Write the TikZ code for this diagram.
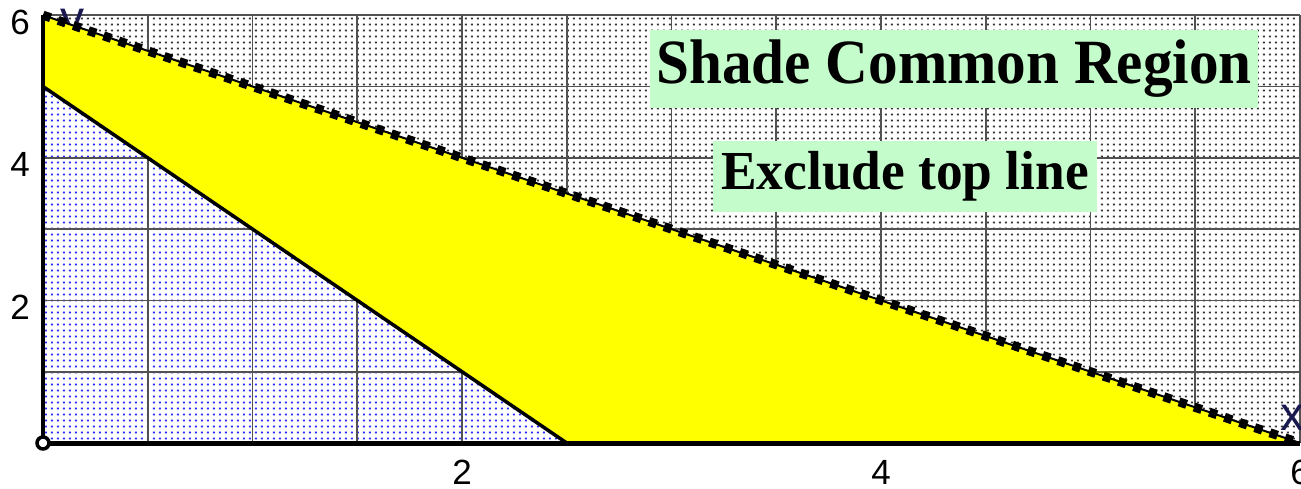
\documentclass[tikz,border=0pt]{standalone}
\usepackage{fontspec}
\usepackage{graphicx}
\setmainfont{Liberation Serif}
\newfontfamily\arsans{Liberation Sans}
\usetikzlibrary{patterns}
\definecolor{boxgreen}{RGB}{196,252,204}
\definecolor{axnavy}{RGB}{25,25,80}
\definecolor{ylw}{RGB}{255,255,0}
\definecolor{dotblue}{RGB}{40,40,255}
\pgfdeclarepatternformonly{gdots}{\pgfqpoint{0pt}{0pt}}{\pgfqpoint{6.3pt}{6pt}}{\pgfqpoint{6.3pt}{6pt}}{\pgfpathrectangle{\pgfqpoint{2.2pt}{2.0pt}}{\pgfqpoint{2pt}{2pt}}\pgfusepath{fill}}
\begin{document}
\begin{tikzpicture}[x=209.5pt,y=71.3pt,
  gridln/.style={draw=black!68, line width=1.8pt},
  ticklab/.style={font=\arsans\fontsize{35}{35}\selectfont, inner sep=0pt},
  axlab/.style={font=\arsans\fontsize{48}{48}\selectfont, text=axnavy, inner sep=0pt},
  banner/.style={fill=boxgreen, inner sep=0pt, text=black},
  bdline/.style={line width=3.5pt, draw=black},
  topsolid/.style={line width=2pt, draw=black},
  topdash/.style={line width=9pt, draw=black, dash pattern=on 8pt off 8pt}]
\useasboundingbox (-43pt,-45pt) rectangle (1258pt,443pt);
\coordinate (O) at (0,0);
\coordinate (Y5) at (0,5);
\coordinate (Y6) at (0,6);
\coordinate (X25) at (2.5,0);
\coordinate (X6) at (6,0);
\coordinate (TR) at (6,6);
% dotted backgrounds
\fill[pattern=gdots, pattern color=black!80] (X25) -- (Y5) -- (Y6) -- (TR) -- (X6) -- cycle;
\fill[pattern=gdots, pattern color=dotblue] (O) -- (Y5) -- (X25) -- cycle;
% grid
\foreach \i in {1,...,12} { \draw[gridln] (\i*0.5,0) -- (\i*0.5,6); }
\foreach \j in {1,...,6} { \draw[gridln] (0,\j) -- (6,\j); }
% y label (partly hidden)
\node[axlab, anchor=base] (ylab) at (29pt,408pt) {y};
% feasible region
\fill[ylw] (Y5) -- (Y6) -- (X6) -- (X25) -- cycle;
% boundary lines
\draw[bdline] (Y5) -- (X25);
\draw[topsolid] (Y6) -- (X6);
\draw[topdash] (Y6) -- (X6);
% axes
\draw[line width=3.5pt] (O) -- (Y6);
\draw[line width=5pt] (O) -- (X6);
\draw[line width=3.5pt, fill=white] (O) circle (6pt);
% tick labels
\node[ticklab, xshift=-23pt, yshift=-7pt] (l6) at (Y6) {6};
\node[ticklab, xshift=-23pt, yshift=-7pt] (l4) at (0,4) {4};
\node[ticklab, xshift=-23pt, yshift=-7pt] (l2) at (0,2) {2};
\node[ticklab, yshift=-29pt] (b2) at (2,0) {2};
\node[ticklab, yshift=-29pt] (b4) at (4,0) {4};
\node[ticklab, yshift=-29pt] (b6) at (6,0) {6};
\node[axlab, anchor=base] (xlab) at (1249pt,13pt) {x};
% banners
\node[banner, minimum width=608pt, minimum height=78pt, font=\bfseries\fontsize{63}{63}\selectfont] (shade) at (911pt,374pt) {\scalebox{0.94}[1]{Shade Common Region}};
\node[banner, minimum width=384pt, minimum height=71pt, font=\bfseries\fontsize{55}{55}\selectfont] (excl) at (862pt,266.5pt) {\scalebox{0.97}[1]{Exclude top line}};
\end{tikzpicture}
\end{document}
